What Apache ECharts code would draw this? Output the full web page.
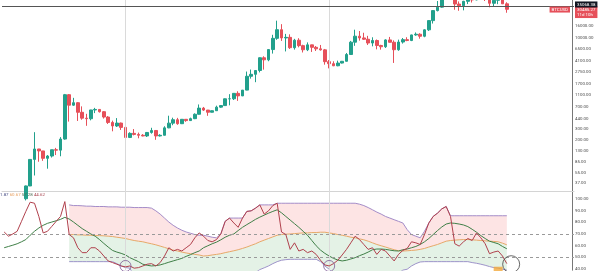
<!DOCTYPE html>
<html><head><meta charset="utf-8">
<script src="https://cdn.jsdelivr.net/npm/echarts@6/dist/echarts.min.js"></script>
<style>html,body{margin:0;padding:0;background:#fff}#c{width:600px;height:271px}</style>
</head><body><div id="c"></div>
<script>
// ---- time slots (monthly) ----
const startYear = 2012, startMonth = 9, slotCount = 132;
// ---- BTCUSD monthly OHLC (Sep 2012 .. May 2022) ----
const opens = [10.1,12.4,11.2,12.6,
 13.5,20.4,33.4,93,139,129,97,106,135,133,204,1130,
 754,829,573,457,447,627,640,586,477,387,338,378,
 320,217,254,244,236,230,263,284,230,236,314,377,
 430,369,437,416,448,531,673,624,574,609,699,742,
 964,965,1190,1079,1348,2300,2480,2875,4700,4340,6450,9950,
 13880,10100,10330,6930,9250,7500,6400,7730,7030,6630,6370,4040,
 3740,3450,3830,4100,5330,8570,10800,10100,9600,8300,9150,7550,
 7190,9350,8540,6410,8620,9450,9140,11350,11650,10780,13800,19700,
 28990,33110,45240,58800,57750,37330,35040,41490,47110,43820,61300,57000,
 46220,38470,43160,45510,37640];
const closes = [12.4,11.2,12.6,13.5,
 20.4,33.4,93,139,129,97,106,135,133,204,1130,754,
 829,573,457,447,627,640,586,477,387,338,378,320,
 217,254,244,236,230,263,284,230,236,314,377,430,
 369,437,416,448,531,673,624,574,609,699,742,964,
 965,1190,1079,1348,2300,2480,2875,4700,4340,6450,9950,13880,
 10100,10330,6930,9250,7500,6400,7730,7030,6630,6370,4040,3740,
 3450,3830,4100,5330,8570,10800,10100,9600,8300,9150,7550,7190,
 9350,8540,6410,8620,9450,9140,11350,11650,10780,13800,19700,28990,
 33110,45240,58800,57750,37330,35040,41490,47110,43820,61300,57000,46220,
 38470,43160,45510,37640,30485.27];
const highs = [12.9,12.9,12.9,13.8,
 20.9,33.9,93.0,266,139.5,129,110,135,145,220,1163,1160,
 1000,850,720,540,630,680,640,600,495,415,458,385,
 320,265,300,262,247,268,315,285,246,334,502,465,
 462,441,439,466,550,775,704,627,615,740,752,975,
 1153,1200,1290,1350,2760,2980,2920,4770,4980,6470,11400,19670,
 17180,11800,11600,9750,9990,7770,8500,7760,7400,7700,6600,4310,
 4100,4200,4150,5650,9000,13880,13200,12330,10950,10350,9500,7750,
 9580,10500,9190,9450,10080,10380,11450,12480,12090,14100,19860,29300,
 41950,58350,61780,64900,59600,41300,42300,50500,52920,67000,69000,59100,
 47990,45800,48200,47450,40000];
const lows = [10.0,10.0,10.2,12.3,
 13.3,19.1,33.2,50,85,88,65,100,110,105,199,400,
 735,410,430,340,420,555,567,450,365,275,325,290,
 152,212,235,210,227,221,251,198,225,235,310,348,
 354,364,397,411,440,526,603,500,570,604,682,740,
 750,920,890,1070,1340,2100,1830,2670,2970,4110,5520,9400,
 9000,6000,6600,6430,7030,5760,6080,5880,6100,6200,3600,3120,
 3400,3390,3770,4080,5330,7450,9090,9350,7700,7300,6500,6430,
 6860,8450,3850,6150,8120,8910,8930,10980,9820,10370,13200,17600,
 28130,32300,45000,47000,30000,28800,29300,37300,39600,43290,53250,42000,
 32930,34300,37200,37500,26700];
const priceTicks = [37,55,85,130,200,300,440,700,1100,1700,2750,4100,6500,10000,16000];
const lastPrice = 30485.27;
const lastPriceText = '30485.27';
const countdownText = '11d 10h';
const symbolText = 'BTCUSD';
const hLinePrice = 35068.38;
const hLineText = '35068.38';
const markerMonths = ['2015-01','2018-12'];

// ---- oscillator panel ----
const oscTicks = [40,50,60,70,80,90,100];
const oscLevels = [70,50];
const legendValues = ['1.87','60.67','57.28','44.62'];
const rsi = [71.7,68.1,70.0,72.3,80.8,89.3,97.2,96.3,85.0,70.9,72.3,76.5,80.8,85.0,97.7,69.5,66.7,58.2,54.0,54.0,
 58.2,58.2,55.4,51.1,46.9,45.5,44.1,42.6,41.8,42.6,40.7,41.2,42.6,44.1,44.6,42.6,45.5,51.1,58.2,55.4,
 56.8,55.4,58.2,61.0,66.7,70.9,68.1,64.4,63.3,65.2,70.0,80.8,83.6,79.4,75.7,83.6,89.3,89.8,92.1,94.9,
 87.0,89.8,94.3,96.3,71.7,69.5,56.8,62.4,55.4,56.8,54.0,55.4,52.5,47.5,43.5,42.6,44.6,47.5,52.0,56.8,
 62.4,68.1,65.2,61.0,56.8,58.2,52.5,56.8,55.4,51.1,46.9,52.5,55.9,57.6,63.3,62.4,61.0,69.5,79.4,85.0,
 87.8,91.5,93.5,85.0,61.6,59.6,63.3,66.1,64.4,70.9,66.7,61.6,53.1,54.5,55.4,51.1,44.6];
const rsiAvg = [58.2,59.3,60.4,61.6,63.3,65.2,68.9,72.3,75.1,77.4,79.1,80.2,81.3,82.5,84.2,82.8,80.2,77.4,74.6,72.3,
 70.0,68.1,65.2,61.9,58.8,55.9,54.5,53.4,52.0,49.7,48.0,46.3,44.1,43.2,42.6,42.9,43.5,44.6,45.8,46.9,
 48.0,49.1,50.8,52.3,54.0,55.4,58.2,59.9,61.6,63.0,65.0,67.2,68.9,70.0,72.9,75.7,78.0,80.2,82.5,84.4,
 86.1,87.8,89.3,90.7,88.1,85.0,81.9,78.8,75.7,72.3,68.9,64.4,59.9,56.2,53.4,51.1,49.1,47.7,46.9,47.5,
 48.6,49.7,51.4,52.8,54.5,56.5,57.1,57.1,56.8,56.2,55.6,55.4,56.5,57.1,58.2,59.3,61.0,63.3,66.1,69.5,
 72.9,76.0,78.5,79.4,79.1,78.5,77.7,76.3,74.0,71.5,68.6,66.1,63.8,62.7,61.6,59.3,57.3];
const bandUpper = ['-','-','-','-','-','-','-','-','-','-','-','-','-','-','-',94.9,94.3,94.3,94.1,93.8,
 93.8,93.5,93.5,93.5,93.2,93.2,93.2,92.9,92.9,92.9,92.6,92.6,92.6,92.6,92.1,89.8,87.0,83.6,80.2,77.4,
 75.1,73.2,71.7,70.6,69.5,68.9,68.9,68.1,67.2,66.7,70.0,80.8,83.6,83.6,83.6,83.6,89.3,89.8,92.1,94.9,
 94.9,94.9,94.9,96.3,96.3,96.3,96.3,96.3,96.3,96.3,96.3,96.3,96.3,96.3,96.3,96.3,96.3,96.3,96.3,96.3,
 96.3,96.3,95.5,94.3,92.6,90.7,88.7,87.0,85.0,83.6,82.2,80.8,79.4,73.7,69.5,68.1,66.7,72.3,79.4,85.0,
 87.8,91.5,93.5,85.6,85.6,85.6,85.6,85.6,85.6,85.6,85.6,85.6,85.6,85.6,85.6,85.6,85.6];
const bandMid = ['-','-','-','-','-','-','-','-','-','-','-','-','-','-','-',69.5,69.5,69.2,69.2,68.9,
 68.9,68.6,68.6,68.4,68.1,67.8,67.2,66.7,66.1,65.2,64.4,63.8,63.3,62.4,61.6,60.7,59.6,58.5,57.3,56.2,
 55.4,54.5,53.7,53.1,52.5,52.0,51.1,51.4,52.0,52.5,53.1,54.0,54.8,55.6,56.5,57.6,58.8,60.2,61.6,63.3,
 64.7,66.1,67.5,68.9,69.5,69.8,70.0,70.3,70.6,70.9,70.9,71.2,71.2,71.5,71.5,70.9,70.3,69.5,68.9,68.1,
 67.2,66.7,65.8,65.0,63.8,62.4,61.0,59.9,58.8,57.6,56.5,55.6,55.4,55.6,55.9,56.2,56.8,57.6,58.8,59.9,
 61.0,62.4,63.8,64.4,64.7,65.0,65.2,65.2,65.0,64.7,64.4,64.1,63.8,63.6,63.3,62.1,60.7];
const bandLower = ['-','-','-','-','-','-','-','-','-','-','-','-','-','-','-',46.3,46.3,46.3,46.3,46.3,
 46.3,46.3,46.3,46.3,46.3,46.3,44.6,42.6,41.2,40.7,34,34,34,34,34,34,34,34,34,34,
 34,34,34,34,34,34,34,34,34,34,34,34,34,34,34,34,34,34,37,39.5,
 41,42.6,44.6,46.3,47.5,48.0,48.3,48.3,48.3,48.3,48.3,48.3,48.3,46.3,42.6,39.8,36,34,34,34,
 34,34,34,34,34,34,34,34,34,34,34,36.5,39.0,39.8,42.6,44.6,46.0,46.3,46.3,46.3,
 46.3,46.3,46.3,46.3,46.3,46.3,46.3,46.3,45.5,44.9,44.1,43.2,42.1,41.2,40.7,39.8,39.0];
const circleMonths = ['2015-01','2018-12','2022-06'];
const circleValues = [42.6,42.6,44.1];
const circleSizes = [11,11,17];
const circleColors = ['#7d5a96','#7d5a96','#444444'];
const boxMonth = '2022-03', boxValue = 39.8;

// ---- build ----
const categories = [];
for (let k = 0; k < slotCount; k++) {
  const m = startMonth - 1 + k;
  categories.push((startYear + Math.floor(m / 12)) + '-' + String(m % 12 + 1).padStart(2, '0'));
}
const lg = Math.log10;
const candles = opens.map((o, i) => [lg(o), lg(closes[i]), lg(lows[i]), lg(highs[i])]);
const diff = (a, b) => a.map((v, i) => (v === '-' || b[i] === '-') ? '-' : +(v - b[i]).toFixed(2));
const FONT = 'Roboto';
const FS = 4.4;
const UP = '#22a08c', DOWN = '#e6505a';
const CLEAR = 'rgba(0,0,0,0)';
const vLines = markerMonths.map(c => ({xAxis: c, lineStyle: {color: '#dadada', width: 1, type: 'solid'}, label: {show: false}}));

const chart = echarts.init(document.getElementById('c'), null, {renderer: 'canvas'});
chart.setOption({
  animation: false,
  backgroundColor: '#ffffff',
  title: {
    text: '{a|' + legendValues[0] + '} {b|' + legendValues[1] + '} {c|' + legendValues[2] + '} {d|' + legendValues[3] + '}',
    left: 0, top: 193, padding: 0,
    textStyle: {fontSize: FS, fontFamily: FONT, fontWeight: 'normal',
      rich: {a: {color: '#4a4f86', fontSize: FS, fontFamily: FONT}, b: {color: '#e8a060', fontSize: FS, fontFamily: FONT},
             c: {color: '#4d6b52', fontSize: FS, fontFamily: FONT}, d: {color: '#a8434f', fontSize: FS, fontFamily: FONT}}}
  },
  grid: [
    {left: 2, right: 26, top: 0, height: 191},
    {left: 2, right: 26, top: 191, height: 80}
  ],
  xAxis: [
    {type: 'category', gridIndex: 0, data: categories, boundaryGap: true,
     axisLine: {show: true, lineStyle: {color: '#d4d4d4'}}, axisTick: {show: false}, axisLabel: {show: false}, splitLine: {show: false}},
    {type: 'category', gridIndex: 1, data: categories, boundaryGap: true,
     axisLine: {show: false}, axisTick: {show: false}, axisLabel: {show: false}, splitLine: {show: false}}
  ],
  yAxis: [
    {type: 'value', gridIndex: 0, position: 'right', offset: -2, min: 1.439, max: 4.640, scale: true,
     splitLine: {show: false}, axisTick: {show: false},
     axisLine: {show: true, lineStyle: {color: '#777'}},
     axisLabel: {customValues: priceTicks.map(lg), formatter: v => Math.pow(10, v).toFixed(2),
       fontSize: FS, fontFamily: FONT, color: '#4a4a4a', margin: 3}},
    {type: 'value', gridIndex: 1, position: 'right', offset: -2, min: 38.98, max: 106.78, scale: true,
     splitLine: {show: false}, axisTick: {show: false},
     axisLine: {show: true, lineStyle: {color: '#777'}},
     axisLabel: {customValues: oscTicks, formatter: v => v.toFixed(2),
       fontSize: FS, fontFamily: FONT, color: '#4a4a4a', margin: 3}}
  ],
  series: [
    {type: 'candlestick', xAxisIndex: 0, yAxisIndex: 0, data: candles, barWidth: 3, clip: true,
     itemStyle: {color: UP, color0: DOWN, borderColor: UP, borderColor0: DOWN, borderWidth: 1},
     markLine: {silent: true, symbol: 'none', animation: false, data: [
       ...vLines,
       {yAxis: lg(lastPrice), lineStyle: {color: CLEAR, width: 1},
        label: {show: true, position: 'end', distance: 1, offset: [0, 2.5], formatter: lastPriceText + '\n' + countdownText, backgroundColor: DOWN, color: '#fff',
                fontSize: FS, fontFamily: FONT, lineHeight: 5, padding: [1, 2, 1, 2]}},
       {yAxis: lg(lastPrice), lineStyle: {color: CLEAR, width: 1},
        label: {show: true, position: 'insideEndTop', distance: [4, 0], verticalAlign: 'middle', formatter: symbolText, backgroundColor: DOWN, color: '#fff',
                fontSize: FS, fontFamily: FONT, padding: [1, 2, 1, 2]}},
       {yAxis: lg(hLinePrice), lineStyle: {color: '#555', width: 1, type: 'solid'},
        label: {show: true, position: 'end', distance: 1, offset: [0, -1.5], formatter: hLineText, backgroundColor: '#131722', color: '#fff',
                fontSize: FS, fontFamily: FONT, padding: [1, 2, 1, 2]}}
     ]}},
    {type: 'line', xAxisIndex: 1, yAxisIndex: 1, data: bandLower, stack: 'band', symbol: 'none', silent: true,
     lineStyle: {opacity: 0}, z: 1},
    {type: 'line', xAxisIndex: 1, yAxisIndex: 1, data: diff(bandMid, bandLower), stack: 'band', symbol: 'none', silent: true,
     lineStyle: {opacity: 0}, areaStyle: {color: '#e4f2e6', opacity: 1}, z: 1},
    {type: 'line', xAxisIndex: 1, yAxisIndex: 1, data: diff(bandUpper, bandMid), stack: 'band', symbol: 'none', silent: true,
     lineStyle: {opacity: 0}, areaStyle: {color: '#fde4e4', opacity: 1}, z: 1},
    {type: 'line', xAxisIndex: 1, yAxisIndex: 1, data: bandUpper, symbol: 'none', silent: true,
     lineStyle: {color: '#a48cc8', width: 1}, z: 3},
    {type: 'line', xAxisIndex: 1, yAxisIndex: 1, data: bandLower, symbol: 'none', silent: true,
     lineStyle: {color: '#9d93c9', width: 1}, z: 3},
    {type: 'line', xAxisIndex: 1, yAxisIndex: 1, data: bandMid, symbol: 'none', silent: true,
     lineStyle: {color: '#e6a868', width: 1}, z: 3},
    {type: 'line', xAxisIndex: 1, yAxisIndex: 1, data: rsiAvg, symbol: 'none', silent: true,
     lineStyle: {color: '#3f7f47', width: 1}, z: 4},
    {type: 'line', xAxisIndex: 1, yAxisIndex: 1, data: rsi, symbol: 'none', silent: true,
     lineStyle: {color: '#b0404c', width: 1}, z: 5,
     markLine: {silent: true, symbol: 'none', animation: false, data: [
       ...oscLevels.map(v => ({yAxis: v, lineStyle: {color: '#9a9a9a', width: 1, type: [3, 3]}, label: {show: false}})),
       ...vLines
     ]}},
    {type: 'scatter', xAxisIndex: 1, yAxisIndex: 1, silent: true, z: 6, clip: false,
     data: circleMonths.map((c, i) => ({value: [c, circleValues[i]], symbolSize: circleSizes[i],
       itemStyle: {color: CLEAR, borderColor: circleColors[i], borderWidth: 1}}))
       .concat([{value: [boxMonth, boxValue], symbol: 'rect', symbolSize: [9, 5], itemStyle: {color: '#f2a93b'}}])}
  ]
});
</script></body></html>
